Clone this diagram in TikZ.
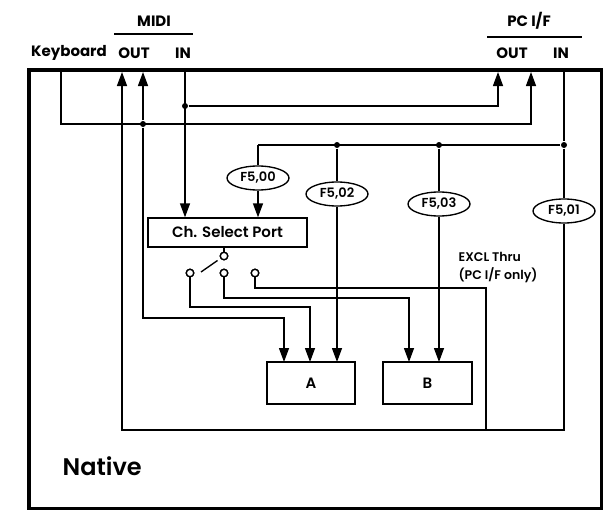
\documentclass[tikz,border=0pt]{standalone}
\usepackage{fontspec}
\setmainfont{Poppins}
\newfontfamily\semib{Poppins SemiBold}
\usetikzlibrary{arrows.meta,shapes.geometric}
\begin{document}
\begin{tikzpicture}[x=1pt,y=-1pt,line width=1.35pt,
  arr/.style={-{Triangle[length=14pt,width=10pt]}},
  hdr/.style={inner sep=0pt,font=\bfseries\fontsize{15}{18}\selectfont},
  box/.style={draw,inner sep=0pt,font=\semib\fontsize{15}{18}\selectfont},
  fnode/.style={draw,ellipse,minimum width=62pt,minimum height=24pt,inner sep=0pt,font=\semib\fontsize{13}{15}\selectfont},
  sw/.style={draw,circle,minimum size=7.5pt,inner sep=0pt,fill=white},
  dot/.style={fill,circle,minimum size=6pt,inner sep=0pt}]
\useasboundingbox (0,0) rectangle (604,511);
% outer frame
\draw[line width=3.5pt] (29,70) rectangle (601.5,508.5);
% header labels
\node[hdr] (midi) at (154,21) {MIDI};
\coordinate (mu1) at (114,34); \coordinate (mu2) at (193,34);
\draw (mu1) -- (mu2);
\node[hdr] (kbd) at (69,53) {Keyboard};
\node[hdr] (mout) at (134,53) {OUT};
\node[hdr] (min) at (183,53) {IN};
\node[hdr] (pcif) at (529,21) {PC I/F};
\coordinate (pu1) at (487,37); \coordinate (pu2) at (582,37);
\draw (pu1) -- (pu2);
\node[hdr] (pout) at (512,53) {OUT};
\node[hdr] (pin) at (561,53) {IN};
% port points
\coordinate (kbdP) at (61,70);
\coordinate (mo1) at (122,72);
\coordinate (mo2) at (143,72);
\coordinate (miP) at (185,70);
\coordinate (po1) at (498,72);
\coordinate (po2) at (531,72);
\coordinate (piP) at (564,70);
% junctions
\coordinate (k1) at (61,124);
\node[dot] (dk) at (143,124) {};
\node[dot] (dm) at (185,106) {};
\coordinate (b0) at (258,145);
\node[dot] (d2) at (337,145) {};
\node[dot] (d3) at (439,145) {};
\node[dot] (d4) at (564,145) {};
% blocks
\node[box,minimum width=159pt,minimum height=29pt] (csp) at (227.5,232.5) {Ch. Select Port};
\node[box,minimum width=88pt,minimum height=42pt] (A) at (311,383) {A};
\node[box,minimum width=89pt,minimum height=42pt] (B) at (427.5,383) {B};
\node[fnode] (f500) at (258,178) {F5,00};
\node[fnode] (f502) at (337,194) {F5,02};
\node[fnode] (f503) at (439,204) {F5,03};
\node[fnode] (f501) at (564,211) {F5,01};
% switch
\node[sw] (s0) at (224,256) {};
\node[sw] (s1) at (190,273) {};
\node[sw] (s2) at (224,273) {};
\node[sw] (s3) at (255,273) {};
\coordinate (bl1) at (201,272); \coordinate (bl2) at (217.5,260.5);
% targets and bends
\coordinate (k2) at (143,318);
\coordinate (a1) at (284,362);
\coordinate (a2) at (310,362);
\coordinate (a3) at (337,362);
\coordinate (bb1) at (409,362);
\coordinate (bb2) at (439,362);
\coordinate (c1) at (190,307);
\coordinate (c2) at (224,298);
\coordinate (c3) at (255,288);
\coordinate (br2) at (486,430);
\coordinate (br) at (564,430);
\coordinate (bl) at (122,430);
% connectors
\draw[arr] (kbdP) -- (k1) -| (po2);
\draw[arr] (dk) -- (mo2);
\draw[arr] (dk) -- (k2) -| (a1);
\draw[arr] (miP) -- (csp.north -| miP);
\draw[arr] (dm) -| (po1);
\draw (piP) -- (d4);
\draw (b0) -- (d4);
\draw (d4) -- (f501);
\draw[arr] (f501) -- (br) -- (bl) -- (mo1);
\draw (b0) -- (f500);
\draw[arr] (f500) -- (csp.north -| f500);
\draw (d2) -- (f502);
\draw[arr] (f502) -- (a3);
\draw (d3) -- (f503);
\draw[arr] (f503) -- (bb2);
\draw (csp.south -| s0) -- (s0);
\draw (bl1) -- (bl2);
\draw[arr] (s1) -- (c1) -| (a2);
\draw[arr] (s2) -- (c2) -| (bb1);
\draw (s3) -- (c3) -| (br2);
% redraw switch circles on top
\node[sw] at (s0) {}; \node[sw] at (s1) {}; \node[sw] at (s2) {}; \node[sw] at (s3) {};
% texts
\node[anchor=west,align=left,inner sep=0pt,font=\semib\fontsize{12.5}{18}\selectfont] (excl) at (458,268) {EXCL Thru\\(PC I/F only)};
\node[anchor=west,inner sep=0pt,font=\semib\fontsize{24}{28}\selectfont] (native) at (62,466) {Native};
\end{tikzpicture}
\end{document}
